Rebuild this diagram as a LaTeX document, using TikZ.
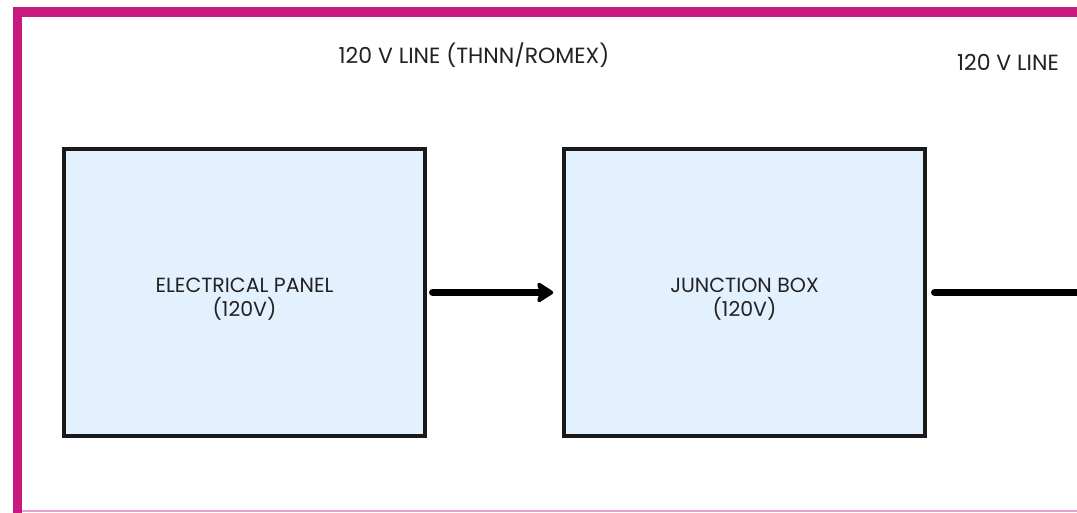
\documentclass[tikz,border=0pt]{standalone}
\usepackage{fontspec}
\setmainfont{Poppins}
\usetikzlibrary{arrows.meta}
\definecolor{mag}{HTML}{C8197F}
\definecolor{lpink}{HTML}{EC9AD0}
\definecolor{boxfill}{HTML}{E3F0FD}
\definecolor{txt}{HTML}{222222}
\tikzset{
  block/.style={draw=black!90, line width=3.5pt, fill=boxfill, minimum width=361pt, minimum height=287pt, inner sep=0pt},
  btext/.style={align=center, font=\fontsize{20.5}{23}\selectfont, text=txt, inner sep=0pt},
  lbl/.style={font=\fontsize{22}{24}\selectfont, text=txt, inner sep=0pt},
  wire/.style={line width=7.5pt, line cap=round}
}
\begin{document}
\begin{tikzpicture}[x=1pt,y=-1pt]
\useasboundingbox (0,0) rectangle (1077,513);
\fill[white] (0,0) rectangle (1077,513);
% frame
\fill[mag] (13,7) rectangle (1077,17);
\fill[mag] (13,7) rectangle (22,513);
\fill[lpink] (22,510) rectangle (1077,512);
% blocks
\node[block] (panel) at (244.5,292.5) {};
\node[block] (jbox) at (744.5,292.5) {};
\node[btext] (panelt) at ([yshift=-7pt]panel.center) {ELECTRICAL PANEL\\[1pt](120V)};
\node[btext] (jboxt) at ([yshift=-7pt]jbox.center) {JUNCTION BOX\\[1pt](120V)};
\coordinate (out) at (1082,292.5);
\draw[wire, -{Stealth[length=19pt,width=24pt,round,inset=4pt]}] ([xshift=6pt]panel.east) -- ([xshift=-9pt]jbox.west);
\draw[wire] ([xshift=8pt]jbox.east) -- (out);
% labels
\node[lbl] (l1) at (474,55) {120 V LINE (THNN/ROMEX)};
\node[lbl] (l2) at (1008,62) {120 V LINE};
\end{tikzpicture}
\end{document}
